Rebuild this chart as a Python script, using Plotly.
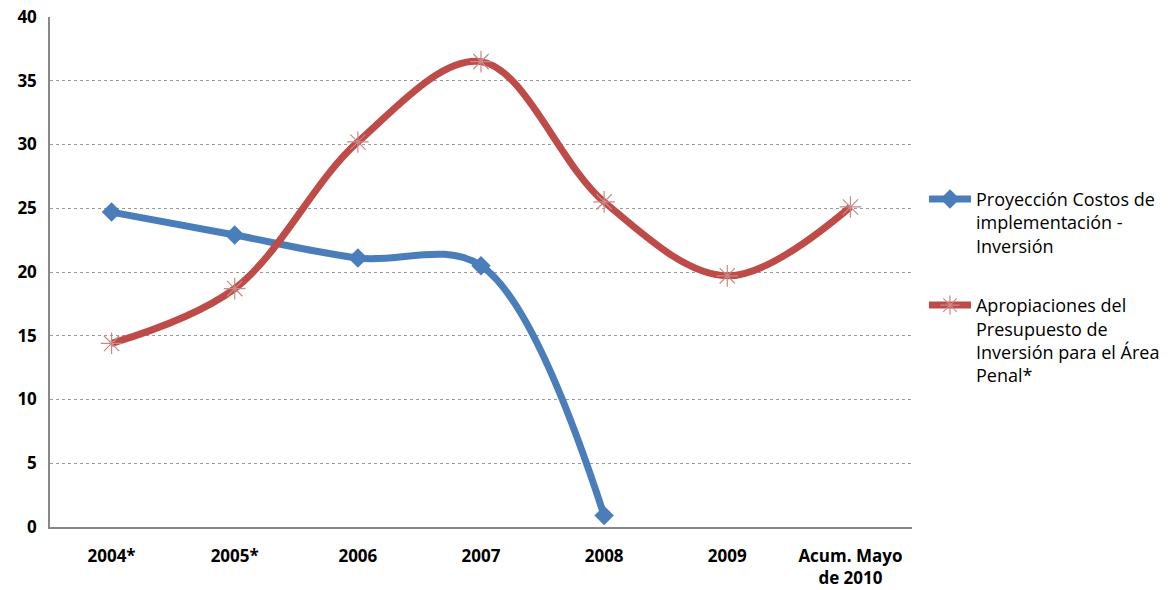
import plotly.graph_objects as go

categories = ["2004*", "2005*", "2006", "2007", "2008", "2009", "Acum. Mayo<br>de 2010"]
proyeccion = [24.7, 22.9, 21.1, 20.5, 0.9, None, None]
apropiaciones = [14.4, 18.7, 30.2, 36.5, 25.5, 19.7, 25.1]
series_names = [
    "Proyección Costos de<br>implementación -<br>Inversión",
    "Apropiaciones del<br>Presupuesto de<br>Inversión para el Área<br>Penal*",
]
y_ticks = [0, 5, 10, 15, 20, 25, 30, 35, 40]

BLUE = "#4A7EBB"
RED = "#BE4B48"

fig = go.Figure()
fig.add_trace(go.Scatter(
    x=categories, y=proyeccion, name=series_names[0], mode="lines+markers",
    legendgroup="g1",
    line=dict(color=BLUE, width=7, shape="spline", smoothing=1),
    marker=dict(symbol="diamond", size=15, color=BLUE),
))
fig.add_trace(go.Scatter(
    x=categories, y=apropiaciones, name=series_names[1], mode="lines+markers",
    legendgroup="g2",
    line=dict(color=RED, width=7, shape="spline", smoothing=1),
    marker=dict(symbol="asterisk-open", size=18, color="#C98986", line=dict(width=1.2, color="#C98986")),
))

font_family = "Open Sans, Liberation Sans, Arial"
fig.update_layout(
    width=1166, height=582,
    margin=dict(l=42, r=262, t=9, b=63, autoexpand=False),
    paper_bgcolor="white", plot_bgcolor="white",
    font=dict(family=font_family, color="#000000"),
    showlegend=True,
    legend=dict(
        x=1.0139, y=0.679, xanchor="left", yanchor="top",
        font=dict(size=18, family=font_family, color="#000"),
        tracegroupgap=33, valign="top", itemwidth=42,
        bgcolor="rgba(0,0,0,0)",
    ),
    xaxis=dict(
        type="category", range=[-0.5, 6.5], automargin=False,
        showline=True, linecolor="#888888", linewidth=1.5,
        showgrid=False, ticks="", ticklabelstandoff=13,
        tickfont=dict(size=17, family=font_family, color="#000", weight="bold"),
    ),
    yaxis=dict(
        range=[0, 40], tickvals=y_ticks, automargin=False,
        ticklabeloverflow="allow",
        showline=True, linecolor="#888888", linewidth=1.5,
        showgrid=True, gridcolor="#9a9a9a", griddash="dot", gridwidth=1,
        zeroline=False, ticks="", ticklabelstandoff=8,
        tickfont=dict(size=17, family=font_family, color="#000", weight="bold"),
    ),
)

fig.write_html("out.html", config={"displayModeBar": False})
